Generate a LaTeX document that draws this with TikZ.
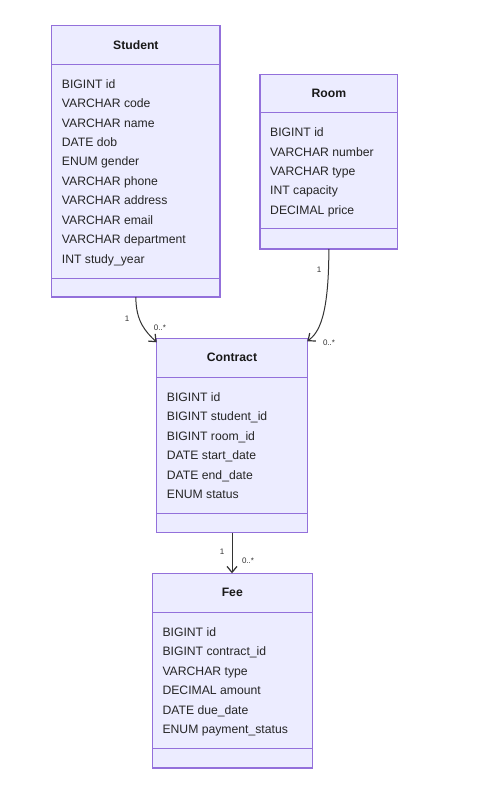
\documentclass[tikz,border=0pt]{standalone}
\usepackage{fontspec}
\setmainfont{Liberation Sans}
\usetikzlibrary{arrows.meta,calc}
\definecolor{boxfill}{HTML}{ECECFF}
\definecolor{boxline}{HTML}{9370DB}
\definecolor{linkcol}{HTML}{333333}
\tikzset{
 classbox/.style={draw=boxline, fill=boxfill, line width=1.5pt, anchor=north west, inner sep=0pt, outer sep=0pt},
 sepline/.style={draw=boxline, line width=1pt},
 classtitle/.style={font=\bfseries\fontsize{12.2}{14}\selectfont, text=black!90, inner sep=0pt, text height=8.8pt, text depth=2.6pt},
 attr/.style={anchor=west, font=\fontsize{12.2}{14}\selectfont, inner sep=0pt, text=black!85, text height=8.8pt, text depth=2.6pt},
 link/.style={draw=linkcol, line width=1pt, -{Straight Barb[length=6pt,width=10pt,line width=1.2pt]}},
 card/.style={font=\fontsize{8}{9}\selectfont, text=linkcol, inner sep=0pt}
}
\newcommand{\drawclass}[9]{%
 \node[classbox, minimum width=#4pt, minimum height=#5pt] (#1) at (#2,#3) {};
 \draw[sepline] ($(#1.north west)+(0,#6)$) -- ($(#1.north east)+(0,#6)$);
 \draw[sepline] ($(#1.north west)+(0,#7)$) -- ($(#1.north east)+(0,#7)$);
 \node[classtitle] (#1-title) at ($(#1.north)+(0,{#6/2+1})$) {#8};
 \foreach \a [count=\i] in {#9} {
   \node[attr] (#1-a\i) at ($(#1.north west)+(10,{#6+21+(\i-1)*19.4})$) {\a};
 }
}
\begin{document}
\begin{tikzpicture}[x=1pt,y=-1pt]
\useasboundingbox[fill=white] (0,0) rectangle (480,786);
\drawclass{student}{51.7}{25.7}{168.3}{271.3}{38.6}{252.3}{Student}{BIGINT id,VARCHAR code,VARCHAR name,DATE dob,ENUM gender,VARCHAR phone,VARCHAR address,VARCHAR email,VARCHAR department,INT study\_year}
\drawclass{room}{260}{74.3}{137.7}{174.7}{38.4}{154.7}{Room}{BIGINT id,VARCHAR number,VARCHAR type,INT capacity,DECIMAL price}
\drawclass{contract}{156.7}{338.3}{150.6}{194.4}{39}{175}{Contract}{BIGINT id,BIGINT student\_id,BIGINT room\_id,DATE start\_date,DATE end\_date,ENUM status}
\drawclass{fee}{152.3}{573.3}{160}{194.7}{39}{174.7}{Fee}{BIGINT id,BIGINT contract\_id,VARCHAR type,DECIMAL amount,DATE due\_date,ENUM payment\_status}
% connectors
\draw[link] (student.south) .. controls ($(student.south)+(0,25)$) and ($(contract.north west)+(-10.7,-6.3)$) .. ($(contract.north west)+(0,4)$);
\draw[link] (room.south) .. controls ($(room.south)+(0,70)$) and ($(contract.north east)+(10.7,-5.3)$) .. ($(contract.north east)+(0,3)$);
\draw[link] (contract.south) -- (contract.south |- fee.north);
% cardinalities
\node[card] (c1) at (127,319) {1};
\node[card] (c2) at (160,327.5) {0..*};
\node[card] (c3) at (319,269.3) {1};
\node[card] (c4) at (329,342.7) {0..*};
\node[card] (c5) at (222,551.7) {1};
\node[card] (c6) at (248,560.7) {0..*};
\end{tikzpicture}
\end{document}
